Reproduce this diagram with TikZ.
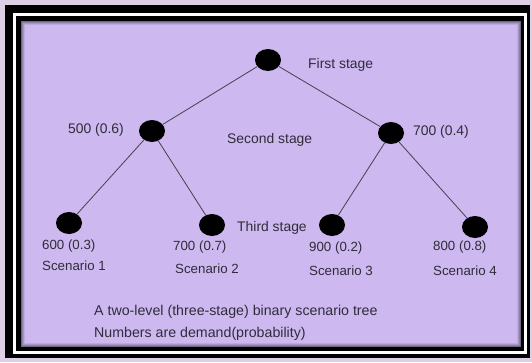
\documentclass[tikz,border=0pt]{standalone}
\usepackage{fontspec}
\setmainfont{Liberation Sans}
\usetikzlibrary{shapes.geometric, positioning}
\definecolor{pagebg}{RGB}{221,208,230}
\definecolor{panel}{RGB}{205,184,240}
\definecolor{ink}{RGB}{48,44,58}

\begin{document}
\begin{tikzpicture}[x=1pt,y=-1pt,
		scen/.style={ellipse, fill=black, minimum width=26pt, minimum height=22pt, inner sep=0pt},
		lbl/.style={text=ink, font=\fontsize{13.3}{15}\selectfont, inner sep=0pt, anchor=west},
		stagelbl/.style={lbl, font=\fontsize{13.9}{16}\selectfont},
		caplbl/.style={lbl, font=\fontsize{14.2}{16}\selectfont},
		edge/.style={draw=ink!90, line width=0.8pt}]
		% Page and frame
		\fill[pagebg] (0,0) rectangle (532,362);
		\useasboundingbox (0,0) rectangle (532,362);
		\fill[black] (5,5) rectangle (530,358);
		\draw[white, line width=3pt] (14.5,14.5) rectangle (525.5,352.5);
		\fill[panel] (21,21) rectangle (521,347);
		% Inner shadow of the panel
		\foreach \d/\o in {0.5/0.45, 1.5/0.3, 2.5/0.18, 3.5/0.08}
			\draw[black, opacity=\o, line width=1pt] (21+\d,21+\d) rectangle (521-\d,347-\d);
		% Tree nodes
		\node[scen] (root) at (268,60) {};
		\node[scen] (s1) at (152,131) {};
		\node[scen] (s2) at (391,133) {};
		\node[scen] (t1) at (69,223) {};
		\node[scen] (t2) at (212,225) {};
		\node[scen] (t3) at (332,225) {};
		\node[scen] (t4) at (475,227) {};
		% Branches
		\draw[edge] (root) -- (s1);
		\draw[edge] (root) -- (s2);
		\draw[edge] (s1) -- (t1);
		\draw[edge] (s1) -- (t2);
		\draw[edge] (s2) -- (t3);
		\draw[edge] (s2) -- (t4);
		% Stage labels
		\node[stagelbl] (first) at (308,65) {First stage};
		\node[stagelbl] (second) at (227,140) {Second stage};
		\node[stagelbl] (third) at (237,228) {Third stage};
		% Demand (probability) labels
		\node[stagelbl] (d1) at (68,130) {500 (0.6)};
		\node[stagelbl] (d2) at (413,132) {700 (0.4)};
		\node[lbl] (d3) at (42,246) {600 (0.3)};
		\node[lbl] (d4) at (173,247) {700 (0.7)};
		\node[lbl] (d5) at (309,248) {900 (0.2)};
		\node[lbl] (d6) at (433,247) {800 (0.8)};
		% Scenario labels
		\node[lbl] (sc1) at (42,266) {Scenario 1};
		\node[lbl] (sc2) at (175,269) {Scenario 2};
		\node[lbl] (sc3) at (309,271) {Scenario 3};
		\node[lbl] (sc4) at (433,271) {Scenario 4};
		% Caption
		\node[caplbl] (cap1) at (94,312) {A two-level (three-stage) binary scenario tree};
		\node[caplbl] (cap2) at (94,334) {Numbers are demand(probability)};
	\end{tikzpicture}
\end{document}
